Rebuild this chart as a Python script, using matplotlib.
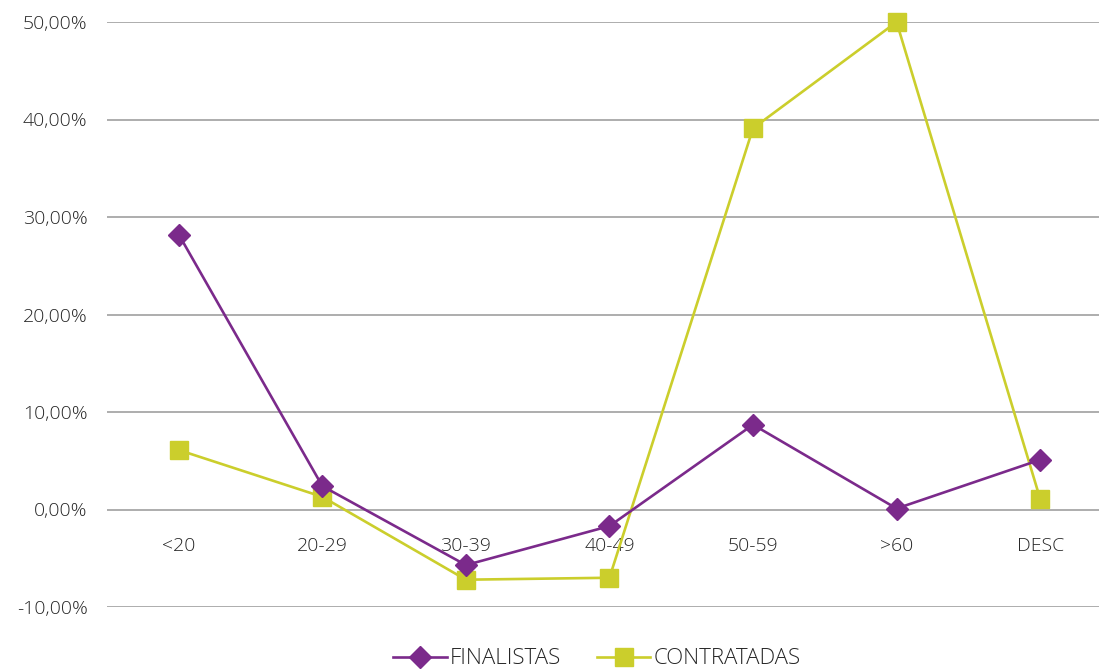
import matplotlib
matplotlib.use("Agg")
import matplotlib.pyplot as plt
from matplotlib.ticker import FuncFormatter

categories = ["<20", "20-29", "30-39", "40-49", "50-59", ">60", "DESC"]
finalistas = [28.2, 2.4, -5.7, -1.7, 8.7, 0.1, 5.1]
contratadas = [6.1, 1.3, -7.2, -7.0, 39.1, 50.0, 1.1]
y_ticks = [-10, 0, 10, 20, 30, 40, 50]

purple = "#7B2A8B"
lime = "#CBCE2C"
text_color = "#262626"

plt.rcParams["font.family"] = ["Open Sans", "DejaVu Sans"]

fig = plt.figure(figsize=(10.99, 6.70), dpi=100)
ax = fig.add_axes([107 / 1099, 63 / 670, 1 - 107 / 1099, (607 - 22) / 670])

x = list(range(len(categories)))
ax.plot(x, finalistas, color=purple, lw=1.9, marker="D", ms=11,
        label="FINALISTAS", clip_on=False, zorder=3)
ax.plot(x, contratadas, color=lime, lw=1.9, marker="s", ms=13,
        label="CONTRATADAS", clip_on=False, zorder=2)

# categories are 143.7 px apart; the last band runs past the right edge
ax.set_xlim(-0.5, 6.41)
ax.set_ylim(-10, 50)
ax.set_yticks(y_ticks)
ax.yaxis.set_major_formatter(FuncFormatter(lambda v, _: f"{v:.2f}".replace(".", ",") + "%"))
ax.grid(axis="y", color="#A0A0A0", lw=1.2)
ax.set_axisbelow(True)

for s in ["top", "right", "left"]:
    ax.spines[s].set_visible(False)
ax.spines["bottom"].set_position(("data", 0))
ax.spines["bottom"].set_visible(False)

ax.set_xticks(x)
ax.set_xticklabels(categories)
ax.tick_params(axis="x", length=0, pad=20, labelsize=14, labelcolor=text_color)
ax.tick_params(axis="y", length=0, pad=14, labelsize=14, labelcolor=text_color)
for lbl in ax.get_xticklabels() + ax.get_yticklabels():
    lbl.set_fontweight("light")

leg = fig.legend(loc="center", bbox_to_anchor=(597 / 1099, 1 - 659 / 670), ncol=2,
                 frameon=False, fontsize=16, handlelength=2.4, columnspacing=1.6,
                 handletextpad=0.15, labelcolor=text_color)
for t in leg.get_texts():
    t.set_fontweight("light")

fig.savefig("out.png", dpi=100)
